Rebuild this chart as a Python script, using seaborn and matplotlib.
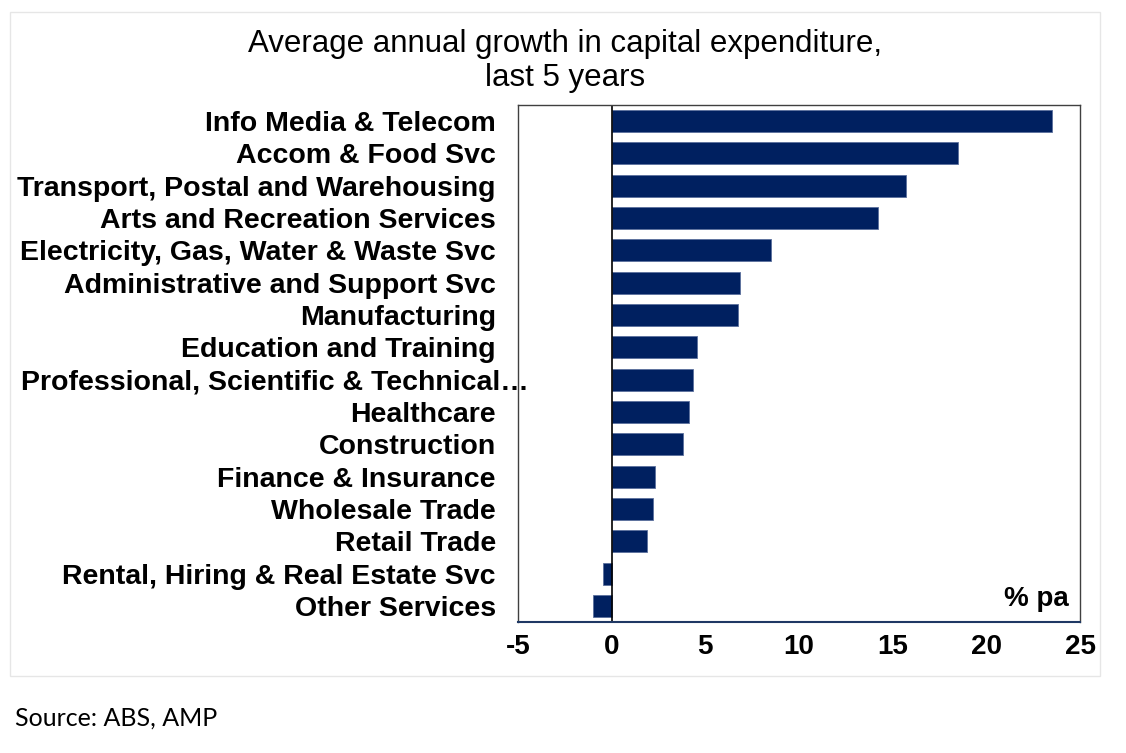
import pandas as pd
import matplotlib.pyplot as plt
import matplotlib.transforms as mtransforms
import seaborn as sns
from matplotlib.patches import Rectangle

# Data (% pa)
industries = [
    'Info Media & Telecom',
    'Accom & Food Svc',
    'Transport, Postal and Warehousing',
    'Arts and Recreation Services',
    'Electricity, Gas, Water & Waste Svc',
    'Administrative and Support Svc',
    'Manufacturing',
    'Education and Training',
    'Professional, Scientific & Technical\u2026',
    'Healthcare',
    'Construction',
    'Finance & Insurance',
    'Wholesale Trade',
    'Retail Trade',
    'Rental, Hiring & Real Estate Svc',
    'Other Services',
]
growth = [23.5, 18.5, 15.7, 14.2, 8.5, 6.85, 6.75, 4.55, 4.35, 4.15,
          3.8, 2.3, 2.2, 1.9, -0.45, -1.0]
x_ticks = [-5, 0, 5, 10, 15, 20, 25]

df = pd.DataFrame({'industry': industries, 'growth': growth})

sns.set_style('white')
plt.rcParams['font.family'] = ['Liberation Sans', 'DejaVu Sans']
plt.rcParams['text.color'] = 'black'
plt.rcParams['xtick.labelcolor'] = 'black'
plt.rcParams['ytick.labelcolor'] = 'black'

bar_color = '#002060'
axis_blue = '#1F3864'

fig = plt.figure(figsize=(11.26, 7.53), dpi=100)
ax = fig.add_axes([518 / 1126, 1 - 622 / 753, (1080 - 518) / 1126, (622 - 105) / 753])

sns.barplot(data=df, x='growth', y='industry', orient='h', color=bar_color,
            width=0.68, edgecolor='#5a6f9c', linewidth=0.6, saturation=1, ax=ax)

ax.set_xlim(-5, 25)
ax.set_ylim(len(industries) - 0.5, -0.5)
ax.set_xticks(x_ticks)
ax.set_xticklabels([str(t) for t in x_ticks], fontsize=20, fontweight='bold')
ax.set_yticklabels(industries, fontsize=20.5, fontweight='bold')
ax.set_xlabel('')
ax.set_ylabel('')
ax.tick_params(axis='y', length=0, pad=16)
ax.tick_params(axis='x', direction='inout', length=8, width=1.2, color=axis_blue, pad=5)

# the truncated label's ellipsis hangs past the right edge of the other labels
shift = mtransforms.ScaledTranslation(0.33, 0, fig.dpi_scale_trans)
for lbl in ax.get_yticklabels():
    if lbl.get_text().endswith('\u2026'):
        lbl.set_transform(lbl.get_transform() + shift)

ax.axvline(0, color='black', linewidth=1.2, zorder=1)

for side in ['top', 'left', 'right']:
    ax.spines[side].set_color('#404040')
    ax.spines[side].set_linewidth(1.0)
ax.spines['bottom'].set_color(axis_blue)
ax.spines['bottom'].set_linewidth(1.5)

ax.text(0.98, 0.02, '% pa', transform=ax.transAxes, ha='right', va='bottom',
        fontsize=20, fontweight='bold')

fig.text(565 / 1126, 1 - 44 / 753, 'Average annual growth in capital expenditure,',
         ha='center', va='center', fontsize=22.5)
fig.text(565 / 1126, 1 - 78 / 753, 'last 5 years', ha='center', va='center', fontsize=22.5)

fig.text(15 / 1126, 1 - 718 / 753, 'Source: ABS, AMP', ha='left', va='center',
         fontsize=18, family=['Lato', 'DejaVu Sans'])

# light outer border around the chart block
fig.patches.append(Rectangle((10 / 1126, 1 - 676 / 753), 1090 / 1126, 664 / 753,
                             transform=fig.transFigure, fill=False,
                             edgecolor='#e6e6e6', linewidth=1.0))

fig.savefig('out.png', dpi=100)
